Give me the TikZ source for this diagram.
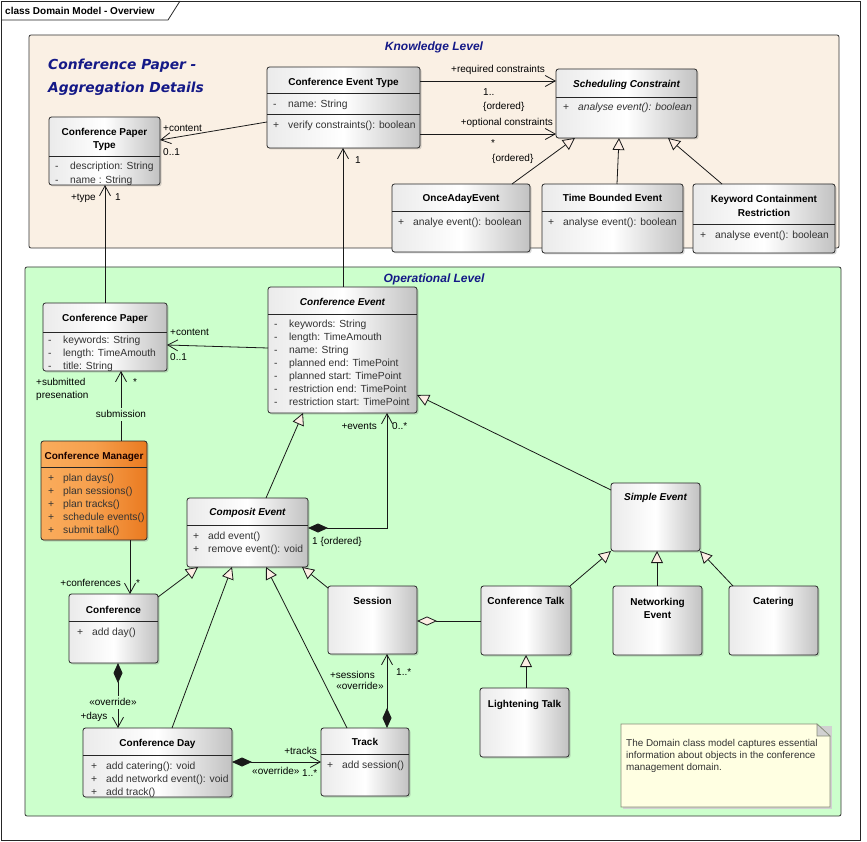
\documentclass[tikz,border=0pt]{standalone}
\usepackage{fontspec}
\setmainfont{Liberation Sans}
\newfontfamily\comicfont{DejaVu Sans}
\usetikzlibrary{arrows.meta,calc,shadows}
\definecolor{kfill}{RGB}{250,240,228}
\definecolor{ofill}{RGB}{204,255,204}
\definecolor{navy}{RGB}{20,25,135}
\definecolor{peach}{RGB}{253,238,228}
\definecolor{notefill}{RGB}{255,255,226}
\definecolor{noteedge}{RGB}{135,140,120}
\definecolor{orangeL}{RGB}{250,172,92}
\definecolor{orangeR}{RGB}{234,122,32}
\tikzset{
  cls/.style={draw=black!85, line width=0.8pt, rounded corners=2.5pt,
    left color=black!8, right color=black!24, middle color=white,
    drop shadow={shadow xshift=1.5pt,shadow yshift=-1.5pt,opacity=0.3},
    inner sep=0pt, outer sep=0pt},
  mgr/.style={cls, left color=orangeL, right color=orangeR, middle color=orangeL!75!orangeR},
  levelbox/.style={draw=black!80, line width=0.8pt, rounded corners=2pt, inner sep=0pt, outer sep=0pt},
  ttl/.style={font=\fontsize{10}{12}\selectfont\bfseries, inner sep=0pt, text height=8pt, text depth=1pt},
  ttli/.style={font=\fontsize{10}{12}\selectfont\bfseries\itshape, inner sep=0pt, text height=8pt, text depth=1pt},
  mem/.style={font=\fontsize{10.3}{12}\selectfont, text=black!80, inner sep=0pt, anchor=west, text height=8pt, text depth=1pt},
  lbl/.style={font=\fontsize{10}{12}\selectfont, inner sep=0pt, text height=8pt, text depth=1pt},
  lvltitle/.style={font=\fontsize{12}{14}\selectfont\bfseries\itshape, text=navy, inner sep=0pt},
  bigtitle/.style={font=\comicfont\fontsize{13.8}{16}\selectfont\bfseries\itshape, text=navy, anchor=west, inner sep=0pt},
  divline/.style={draw=black!85, line width=0.8pt},
  conn/.style={draw=black!90, line width=0.8pt},
  assoc/.style={conn, -{Straight Barb[length=10pt,width=11pt]}},
  gen/.style={conn, -{Triangle[open,fill=peach,length=12pt,width=12pt]}},
  comp/.style={conn, {Diamond[length=20pt,width=9pt]}-{Straight Barb[length=10pt,width=11pt]}},
  agg/.style={conn, {Diamond[open,fill=peach,length=20pt,width=9pt]}-},
}
\newcommand\boxat[6][cls]{\node[#1,minimum width={(#5-#3)*1pt},minimum height={(#6-#4)*1pt}] (#2) at ({(#3+#5)/2},{(#4+#6)/2}) {};}
\newcommand\divd[3]{\draw[divline] (#1,#3) -- (#2,#3);}
\newcommand\mem[5]{\node[mem] (#1) at (#2,#3) {\makebox[15pt][l]{#4}#5};}
\begin{document}
\begin{tikzpicture}[x=1pt,y=-1pt]
\fill[white] (0,0) rectangle (867,842);
\useasboundingbox (0,0) rectangle (867,842);
% outer frame
\draw[line width=0.8pt, black!85] (1,1) rectangle (860,840);
\draw[line width=0.8pt, black!85] (1,20) -- (168,20) -- (180,1);
\node[anchor=west, font=\fontsize{10}{12}\selectfont\bfseries, inner sep=0pt] (frametitle) at (5,11) {class Domain Model - Overview};

% levels
\boxat[levelbox,fill=kfill]{klevel}{29}{35}{839}{248}
\boxat[levelbox,fill=ofill]{olevel}{25}{267}{841}{816}
\node[lvltitle] (kltitle) at (434,47) {Knowledge Level};
\node[lvltitle] (oltitle) at (434,279) {Operational Level};
\node[bigtitle] (cpa1) at (48,66) {Conference Paper -};
\node[bigtitle] (cpa2) at (48,89) {Aggregation Details};

% ---------- Knowledge level classes
\boxat{cpt}{49}{117}{160}{185}
\divd{49}{160}{156}
\node[ttl] (cptt1) at (104.5,132) {Conference Paper};
\node[ttl] (cptt2) at (104.5,145) {Type};
\mem{cptm1}{55}{166}{-}{description: String}
\mem{cptm2}{55}{180}{-}{name : String}

\boxat{cet}{267}{67}{420}{148}
\divd{267}{420}{93}
\divd{267}{420}{114}
\node[ttl] (cett) at (343.5,82) {Conference Event Type};
\mem{cetm1}{273}{104}{-}{name: String}
\mem{cetm2}{273}{125}{+}{verify constraints(): boolean}

\boxat{sc}{556}{69}{697}{138}
\divd{556}{697}{97}
\node[ttli] (sct) at (626.5,84) {Scheduling Constraint};
\node[mem] (scm1) at (563,107) {\makebox[15pt][l]{+}\itshape analyse event(): boolean};

\boxat{once}{392}{184}{530}{252}
\divd{392}{530}{211}
\node[ttl] (oncet) at (461,198) {OnceAdayEvent};
\mem{oncem1}{398}{222}{+}{analye event(): boolean}

\boxat{tbe}{542}{184}{683}{253}
\divd{542}{683}{211}
\node[ttl] (tbet) at (612.5,198) {Time Bounded Event};
\mem{tbem1}{548}{222}{+}{analyse event(): boolean}

\boxat{kcr}{693}{184}{835}{253}
\divd{693}{835}{224}
\node[ttl] (kcrt1) at (764,199) {Keyword Containment};
\node[ttl] (kcrt2) at (764,213) {Restriction};
\mem{kcrm1}{700}{235}{+}{analyse event(): boolean}

% ---------- Operational level classes
\boxat{cp}{43}{303}{167}{371}
\divd{43}{167}{332}
\node[ttl] (cpt1) at (105,318) {Conference Paper};
\mem{cpm1}{48}{340}{-}{keywords: String}
\mem{cpm2}{48}{353}{-}{length: TimeAmouth}
\mem{cpm3}{48}{366}{-}{title: String}

\boxat{ce}{268}{287}{417}{413}
\divd{268}{417}{314}
\node[ttli] (cet1) at (342.5,302) {Conference Event};
\mem{cem1}{274}{324}{-}{keywords: String}
\mem{cem2}{274}{337}{-}{length: TimeAmouth}
\mem{cem3}{274}{350}{-}{name: String}
\mem{cem4}{274}{363}{-}{planned end: TimePoint}
\mem{cem5}{274}{376}{-}{planned start: TimePoint}
\mem{cem6}{274}{389}{-}{restriction end: TimePoint}
\mem{cem7}{274}{402}{-}{restriction start: TimePoint}

\boxat[mgr]{cm}{41}{441}{147}{540}
\divd{41}{147}{467}
\node[ttl, text=black!90!red] (cmt) at (94,456) {Conference Manager};
\mem{cmm1}{48}{478}{+}{plan days()}
\mem{cmm2}{48}{491}{+}{plan sessions()}
\mem{cmm3}{48}{504}{+}{plan tracks()}
\mem{cmm4}{48}{517}{+}{schedule events()}
\mem{cmm5}{48}{530}{+}{submit talk()}

\boxat{coe}{187}{498}{308}{567}
\divd{187}{308}{525}
\node[ttli] (coet) at (247.5,512) {Composit Event};
\mem{coem1}{193}{536}{+}{add event()}
\mem{coem2}{193}{549}{+}{remove event(): void}

\boxat{se}{611}{483}{700}{551}
\node[ttli] (set) at (655.5,497) {Simple Event};

\boxat{session}{328}{586}{417}{654}
\node[ttl] (sessiont) at (372.5,601) {Session};

\boxat{conf}{69}{594}{158}{663}
\divd{69}{158}{621}
\node[ttl] (conft) at (113.5,610) {Conference};
\mem{confm1}{77}{632}{+}{add day()}

\boxat{cd}{83}{728}{232}{797}
\divd{83}{232}{755}
\node[ttl] (cdt) at (157.5,743) {Conference Day};
\mem{cdm1}{91}{766}{+}{add catering(): void}
\mem{cdm2}{91}{779}{+}{add networkd event(): void}
\mem{cdm3}{91}{792}{+}{add track()}

\boxat{track}{321}{728}{409}{796}
\divd{321}{409}{754}
\node[ttl] (trackt) at (365,742) {Track};
\mem{trackm1}{327}{765}{+}{add session()}

\boxat{ct}{481}{586}{571}{655}
\node[ttl] (ctt) at (526,601) {Conference Talk};

\boxat{ne}{613}{586}{702}{655}
\node[ttl] (net1) at (657.5,602) {Networking};
\node[ttl] (net2) at (657.5,615) {Event};

\boxat{cat}{729}{586}{818}{655}
\node[ttl] (catt) at (773.5,601) {Catering};

\boxat{lt}{480}{688}{569}{757}
\node[ttl] (ltt) at (524.5,704) {Lightening Talk};

% note
\fill[black!18] (623,726) -- (832,726) -- (832,809) -- (623,809) -- cycle;
\filldraw[fill=notefill, draw=noteedge, line width=0.8pt] (621,724) -- (817,724) -- (830,736) -- (830,807) -- (621,807) -- cycle;
\filldraw[fill=black!18, draw=noteedge, line width=0.6pt] (817,724) -- (817,736) -- (830,736) -- cycle;
\node[anchor=north west, align=left, inner sep=0pt, text=black!80, font=\fontsize{9.9}{12}\selectfont] (notetext) at (626,739) {The Domain class model captures essential\\information about objects in the conference\\management domain.};

% ---------- Knowledge level connectors
\draw[assoc] ($(cet.north west)+(0,55)$) -- ($(cpt.north east)+(0,23)$);
\node[lbl, anchor=west] (l1) at (163,128) {+content};
\node[lbl, anchor=west] (l2) at (163,152) {0..1};

\draw[assoc] ($(cet.north east)+(0,14)$) -- ($(sc.north west)+(0,12)$);
\node[lbl] (l3) at (498,69) {+required constraints};
\node[lbl, anchor=west] (l4) at (483,92) {1..};
\node[lbl, anchor=west] (l5) at (483,106) {\{ordered\}};

\draw[assoc] ($(cet.north east)+(0,67)$) -- ($(sc.north west)+(0,65)$);
\node[lbl, anchor=east] (l6) at (553,122) {+optional constraints};
\node[lbl] (l7) at (493,143) {*};
\node[lbl, anchor=west] (l8) at (492,158) {\{ordered\}};

\draw[gen] ($(once.north west)+(120,0)$) -- ($(sc.south west)+(19,0)$);
\draw[gen] ($(tbe.north west)+(75,0)$) -- ($(sc.south west)+(63,0)$);
\draw[gen] ($(kcr.north west)+(29,0)$) -- ($(sc.south west)+(112,0)$);

% ---------- cross-level connectors
\draw[assoc] ($(cp.north west)+(62,0)$) -- ($(cpt.south west)+(56,0)$);
\node[lbl, anchor=east] (l9) at (96,197) {+type};
\node[lbl] (l10) at (118,197) {1};

\draw[assoc] ($(ce.north west)+(75,0)$) -- ($(cet.south west)+(76,0)$);
\node[lbl] (l11) at (358,160) {1};

% ---------- Operational connectors
\draw[assoc] ($(ce.north west)+(0,61)$) -- ($(cp.north east)+(0,42)$);
\node[lbl, anchor=west] (l12) at (170,332) {+content};
\node[lbl, anchor=west] (l13) at (170,357) {0..1};

\draw[assoc] ($(cm.north west)+(80,0)$) -- ($(cp.south west)+(78,0)$);
\node[lbl, fill=ofill, inner sep=2pt] (l14) at (121,414) {submission};
\node[lbl, anchor=west] (l15) at (36,382) {+submitted};
\node[lbl, anchor=west] (l16) at (36,395) {presenation};
\node[lbl] (l17) at (135,382) {*};

\draw[gen] ($(coe.north west)+(79,0)$) -- ($(ce.south west)+(35,0)$);
\draw[comp] ($(coe.north east)+(0,30)$) -| ($(ce.south west)+(119,0)$);
\node[lbl, anchor=east] (l18) at (377,426) {+events};
\node[lbl, anchor=west] (l19) at (392,426) {0..*};
\node[lbl, anchor=west] (l20) at (312,541) {1 \{ordered\}};

\draw[gen] ($(se.north west)+(0,7)$) -- ($(ce.north east)+(0,108)$);

\draw[gen] ($(conf.north east)+(0,3)$) -- ($(coe.south west)+(11,0)$);
\draw[gen] ($(cd.north west)+(89,0)$) -- ($(coe.south west)+(45,0)$);
\draw[gen] ($(track.north west)+(26,0)$) -- ($(coe.south west)+(79,0)$);
\draw[gen] ($(session.north west)+(0,2)$) -- ($(coe.south east)+(-6,0)$);

\draw[assoc] ($(cm.south west)+(89,0)$) -- ($(conf.north west)+(61,0)$);
\node[lbl, anchor=east] (l21) at (121,583) {+conferences};
\node[lbl] (l22) at (138,583) {*};

\draw[comp] ($(conf.south west)+(49,0)$) -- ($(cd.north west)+(35,0)$);
\node[lbl, fill=ofill, inner sep=2pt] (l23) at (113,702) {«override»};
\node[lbl] (l24) at (94,716) {+days};

\draw[comp] ($(cd.north east)+(0,34)$) -- ($(track.north west)+(0,34)$);
\node[lbl, anchor=east] (l25) at (317,751) {+tracks};
\node[lbl, anchor=west] (l26) at (252,771) {«override»};
\node[lbl, anchor=west] (l27) at (302,773) {1..*};

\draw[comp] ($(track.north west)+(66,0)$) -- ($(session.south west)+(59,0)$);
\node[lbl, anchor=east] (l28) at (375,675) {+sessions};
\node[lbl, fill=ofill, inner sep=2pt] (l29) at (360,686) {«override»};
\node[lbl, anchor=west] (l30) at (396,672) {1..*};

\draw[agg] ($(session.north east)+(0,35)$) -- ($(ct.north west)+(0,35)$);
\draw[gen] ($(ct.north east)+(-1,0)$) -- (se.south west);
\draw[gen] ($(ne.north west)+(44,0)$) -- ($(se.south west)+(46,0)$);
\draw[gen] ($(cat.north west)+(4,0)$) -- (se.south east);
\draw[gen] ($(lt.north west)+(46,0)$) -- ($(ct.south west)+(45,0)$);
\end{tikzpicture}
\end{document}
